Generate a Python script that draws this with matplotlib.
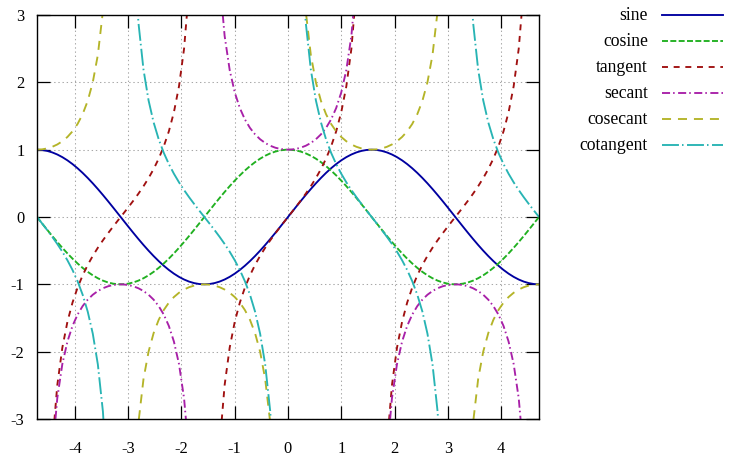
import matplotlib
matplotlib.use("Agg")
import matplotlib.pyplot as plt
import numpy as np
from matplotlib.lines import Line2D

plt.rcParams["font.family"] = ["Liberation Serif", "DejaVu Serif"]
plt.rcParams["lines.scale_dashes"] = False

# gnuplot style sampling: 100 samples over [-3pi/2, 3pi/2]
x = np.linspace(-1.5 * np.pi, 1.5 * np.pi, 100)
names = ["sine", "cosine", "tangent", "secant", "cosecant", "cotangent"]
funcs = [np.sin, np.cos, np.tan,
         lambda t: 1 / np.cos(t), lambda t: 1 / np.sin(t), lambda t: 1 / np.tan(t)]
colors = ["#0000a0", "#20b020", "#a01010", "#a820a8", "#b4b428", "#28b4b4"]
dashes = [None, (4.3, 1.7), (4.3, 4.1), (5.8, 2.2, 1.1, 2.5), (6.5, 5.0), (12.2, 2.2, 1.1, 2.5)]

xticks = [-4, -3, -2, -1, 0, 1, 2, 3, 4]
yticks = [-3, -2, -1, 0, 1, 2, 3]


def broken(xs, ys):
    # break the line at the poles so no vertical jumps are drawn
    ys = np.where(np.abs(ys) > 1e6, np.nan, ys)
    jump = np.where((ys[:-1] * ys[1:] < 0) & (np.abs(ys[:-1] - ys[1:]) > 6))[0] + 1
    return np.insert(xs, jump, np.nan), np.insert(ys, jump, np.nan)


fig = plt.figure(figsize=(7.31, 4.66), dpi=100)
ax = fig.add_axes([37 / 731, 47 / 466, 502 / 731, 404 / 466])

with np.errstate(divide="ignore", invalid="ignore"):
    for name, f, c, d in zip(names, funcs, colors, dashes):
        xs, ys = broken(x, f(x))
        ln, = ax.plot(xs, ys, color=c, lw=1.35, label=name)
        if d is not None:
            ln.set_dashes(d)

ax.set_xlim(-1.5 * np.pi, 1.5 * np.pi)
ax.set_ylim(-3, 3)
ax.set_xticks(xticks)
ax.set_yticks(yticks)
ax.set_xticklabels([str(v) for v in xticks])
ax.set_yticklabels([str(v) for v in yticks])
ax.tick_params(direction="in", length=9.4, width=0.9, top=True, right=True,
               labelsize=11.8, colors="black")
ax.tick_params(axis="x", pad=16)
ax.tick_params(axis="y", pad=9)
ax.grid(True, color="#a8a8a8", linestyle=(0, (1, 2)), lw=0.75)
for s in ax.spines.values():
    s.set_linewidth(1.0)

# key, gnuplot style: right-aligned text, sample line to the right
for i, (name, c, d) in enumerate(zip(names, colors, dashes)):
    yf = 1 - (15 + 26 * i) / 466
    fig.text(648 / 731, yf, name, ha="right", va="center", fontsize=12.7)
    ln = Line2D([662 / 731, 723 / 731], [yf, yf], transform=fig.transFigure,
                color=c, lw=1.35)
    if d is not None:
        ln.set_dashes(d)
    fig.add_artist(ln)

fig.savefig("out.png", dpi=100)
